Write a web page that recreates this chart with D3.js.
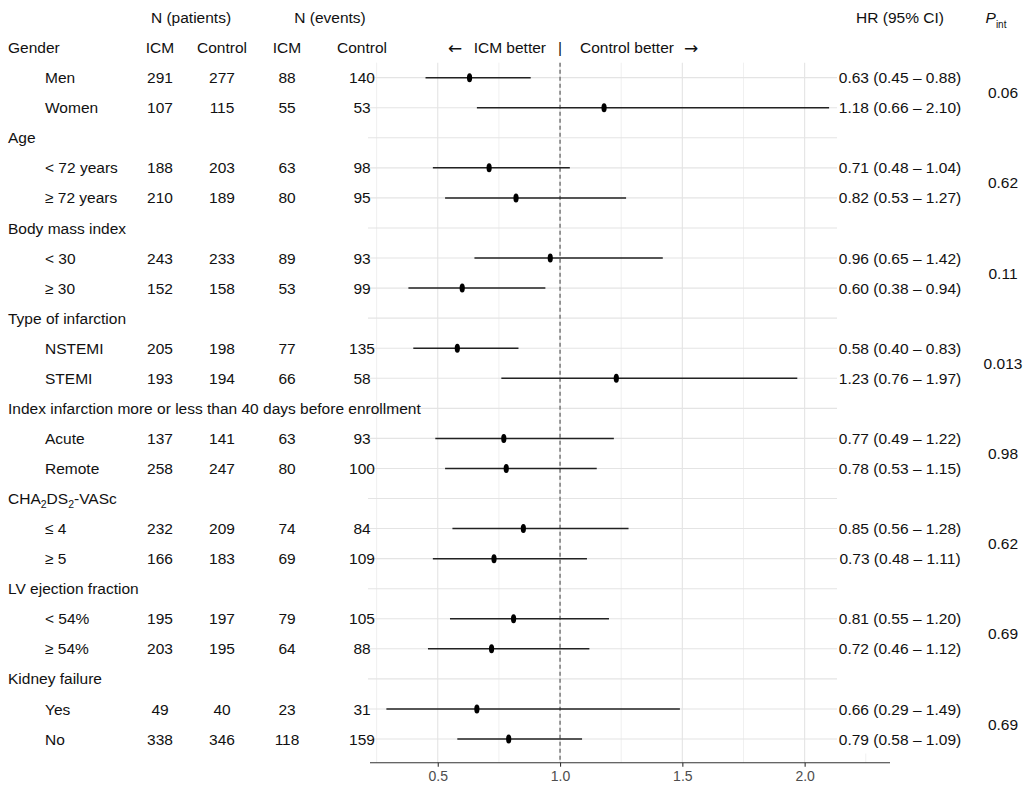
<!DOCTYPE html>
<html>
<head>
<meta charset="utf-8">
<script src="https://cdn.jsdelivr.net/npm/d3@7"></script>
<style>
  html, body { margin: 0; padding: 0; background: #fff; }
  svg { display: block; font-family: "Liberation Sans", Arial, sans-serif; }
</style>
</head>
<body>
<svg id="chart" width="1026" height="790"></svg>
<script>
// ---------- data ----------
const groups = ["Gender", "Age", "Body mass index", "Type of infarction",
  "Index infarction more or less than 40 days before enrollment",
  "CHA2DS2-VASc", "LV ejection fraction", "Kidney failure"];
const subgroups = ["Men", "Women", "< 72 years", "≥ 72 years", "< 30", "≥ 30",
  "NSTEMI", "STEMI", "Acute", "Remote", "≤ 4", "≥ 5", "< 54%", "≥ 54%", "Yes", "No"];
const nPatientsICM = [291, 107, 188, 210, 243, 152, 205, 193, 137, 258, 232, 166, 195, 203, 49, 338];
const nPatientsCtrl = [277, 115, 203, 189, 233, 158, 198, 194, 141, 247, 209, 183, 197, 195, 40, 346];
const nEventsICM = [88, 55, 63, 80, 89, 53, 77, 66, 63, 80, 74, 69, 79, 64, 23, 118];
const nEventsCtrl = [140, 53, 98, 95, 93, 99, 135, 58, 93, 100, 84, 109, 105, 88, 31, 159];
const hr = [0.63, 1.18, 0.71, 0.82, 0.96, 0.60, 0.58, 1.23, 0.77, 0.78, 0.85, 0.73, 0.81, 0.72, 0.66, 0.79];
const hrLow = [0.45, 0.66, 0.48, 0.53, 0.65, 0.38, 0.40, 0.76, 0.49, 0.53, 0.56, 0.48, 0.55, 0.46, 0.29, 0.58];
const hrHigh = [0.88, 2.10, 1.04, 1.27, 1.42, 0.94, 0.83, 1.97, 1.22, 1.15, 1.28, 1.11, 1.20, 1.12, 1.49, 1.09];
const pInt = ["0.06", "0.62", "0.11", "0.013", "0.98", "0.62", "0.69", "0.69"];
const xTicks = [0.5, 1.0, 1.5, 2.0];
const xMinorTicks = [0.25, 0.75, 1.25, 1.75, 2.25];

// ---------- layout ----------
const svg = d3.select("#chart");
const x = d3.scaleLinear().domain([0.223, 2.349]).range([370, 890]);
const y = d3.scaleLinear().domain([0, 23]).range([47.6, 739]);
const panelTop = y(0.5), axisY = 762.7;
const fs = 15.5;
const col = { grp: 8, sub: 45, pI: 160, pC: 222, eI: 287, eC: 362, hr: 900, p: 1003 };

const rows = [];
groups.forEach((g, gi) => {
  rows.push({ type: "group", label: g, gi, r: gi * 3 });
  [0, 1].forEach(k => {
    rows.push({ type: "sub", si: gi * 2 + k, r: gi * 3 + 1 + k });
  });
});

// ---------- grid ----------
const grid = svg.append("g");
grid.selectAll("line.minor").data(xMinorTicks).join("line")
  .attr("x1", d => x(d)).attr("x2", d => x(d))
  .attr("y1", panelTop).attr("y2", axisY)
  .attr("stroke", "#eeeeee").attr("stroke-width", 0.9);
grid.selectAll("line.major").data(xTicks).join("line")
  .attr("x1", d => x(d)).attr("x2", d => x(d))
  .attr("y1", panelTop).attr("y2", axisY)
  .attr("stroke", "#e4e4e4").attr("stroke-width", 1.1);
grid.selectAll("line.h").data(rows.filter(r => r.r > 0)).join("line")
  .attr("x1", 368).attr("x2", 890)
  .attr("y1", d => y(d.r)).attr("y2", d => y(d.r))
  .attr("stroke", "#e4e4e4").attr("stroke-width", 1.1);
svg.append("rect").attr("x", 837).attr("y", panelTop - 1).attr("width", 60)
  .attr("height", y(23) + 15.5 - panelTop).attr("fill", "#fff");

// reference line at HR = 1
svg.append("line")
  .attr("x1", x(1)).attr("x2", x(1)).attr("y1", panelTop).attr("y2", axisY)
  .attr("stroke", "#666").attr("stroke-width", 1.3).attr("stroke-dasharray", "4,3");

// ---------- axis ----------
const axis = d3.axisBottom(x).tickValues(xTicks).tickFormat(d3.format(".1f")).tickSize(4).tickSizeOuter(0);
const ax = svg.append("g").attr("transform", `translate(0,${axisY})`).call(axis);
ax.select(".domain").attr("stroke", "#333").attr("stroke-width", 1.1).attr("d", `M${x.range()[0]},0H${x.range()[1]}`);
ax.selectAll(".tick line").attr("stroke", "#333").attr("stroke-width", 1.1);
ax.selectAll(".tick text").attr("fill", "#4d4d4d").attr("font-size", 14)
  .attr("font-family", "Liberation Sans, Arial, sans-serif").attr("dy", "0.8em");

// ---------- CI lines and points ----------
const subRows = rows.filter(r => r.type === "sub");
svg.append("g").selectAll("line").data(subRows).join("line")
  .attr("x1", d => x(hrLow[d.si])).attr("x2", d => x(hrHigh[d.si]))
  .attr("y1", d => y(d.r)).attr("y2", d => y(d.r))
  .attr("stroke", "#222").attr("stroke-width", 1.5);
svg.append("g").selectAll("ellipse").data(subRows).join("ellipse")
  .attr("cx", d => x(hr[d.si])).attr("cy", d => y(d.r))
  .attr("rx", 2.6).attr("ry", 4.5).attr("fill", "#000");

// ---------- text ----------
const txt = svg.append("g").attr("font-size", fs).attr("fill", "#111");
function t(xp, yp, s, anchor) {
  return txt.append("text").attr("x", xp).attr("y", yp).attr("dy", "0.36em")
    .attr("text-anchor", anchor || "middle").text(s);
}
t(191, 17, "N (patients)");
t(330, 17, "N (events)");
t(900, 17, "HR (95% CI)");
const pH = txt.append("text").attr("x", 996).attr("y", 17).attr("dy", "0.36em").attr("text-anchor", "middle");
pH.append("tspan").attr("font-style", "italic").text("P");
pH.append("tspan").attr("font-size", 10).attr("dy", 5).text("int");

t(col.pI, y(0), "ICM");
t(col.pC, y(0), "Control");
t(col.eI, y(0), "ICM");
t(col.eC, y(0), "Control");
t(455, y(0), "←").attr("font-family", "DejaVu Sans").attr("font-size", 17);
t(546, y(0), "ICM better", "end");
t(x(1), y(0), "|");
t(580, y(0), "Control better", "start");
t(691, y(0), "→").attr("font-family", "DejaVu Sans").attr("font-size", 17);

rows.forEach(r => {
  if (r.type === "group") {
    if (r.label === "CHA2DS2-VASc") {
      const el = txt.append("text").attr("x", col.grp).attr("y", y(r.r)).attr("dy", "0.36em");
      el.append("tspan").text("CHA");
      el.append("tspan").attr("font-size", 10.5).attr("dy", 4).text("2");
      el.append("tspan").attr("dy", -4).text("DS");
      el.append("tspan").attr("font-size", 10.5).attr("dy", 4).text("2");
      el.append("tspan").attr("dy", -4).text("-VASc");
    } else {
      t(col.grp, y(r.r), r.label, "start");
    }
    t(col.p, (y(r.r + 1) + y(r.r + 2)) / 2, pInt[r.gi]);
  } else {
    const i = r.si, yy = y(r.r);
    t(col.sub, yy, subgroups[i], "start");
    t(col.pI, yy, nPatientsICM[i]);
    t(col.pC, yy, nPatientsCtrl[i]);
    t(col.eI, yy, nEventsICM[i]);
    t(col.eC, yy, nEventsCtrl[i]);
    t(col.hr, yy, `${hr[i].toFixed(2)} (${hrLow[i].toFixed(2)} – ${hrHigh[i].toFixed(2)})`);
  }
});
</script>
</body>
</html>
